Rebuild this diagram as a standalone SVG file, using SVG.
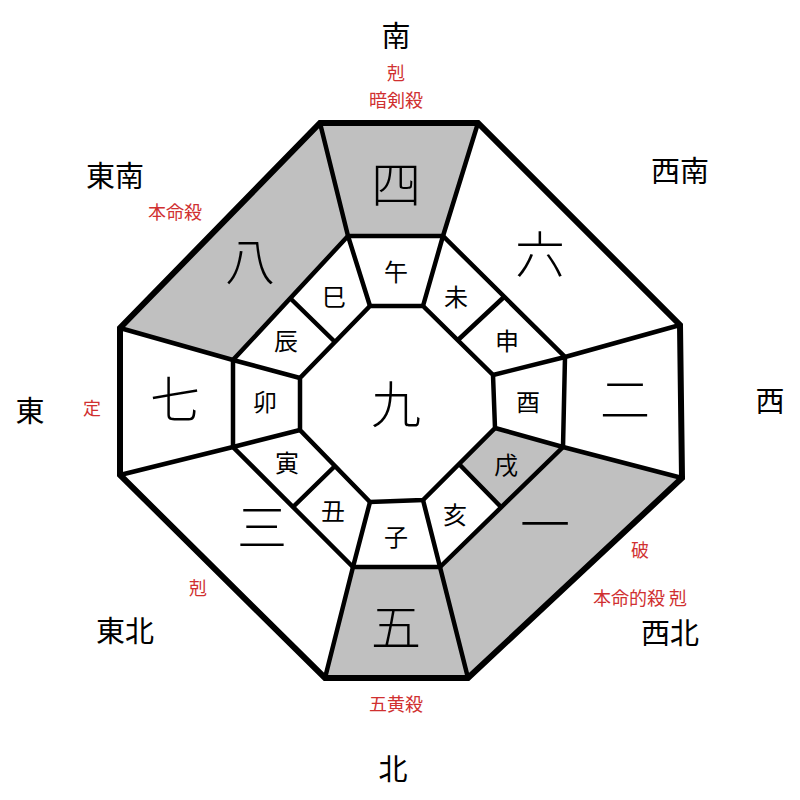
<svg xmlns="http://www.w3.org/2000/svg" width="800" height="800" viewBox="0 0 800 800">
<style>
.g{fill:#c0c0c0}
.w{fill:#fff}
.ln{stroke:#000;stroke-width:4.5;fill:none;stroke-linejoin:miter}
.o{stroke:#000;stroke-width:6;fill:none}
.t{font-family:"Noto Sans CJK JP","Noto Sans CJK SC",sans-serif;text-anchor:middle;fill:#000}
.big{font-size:50px;font-weight:300}
.br{font-size:24px}
.dir{font-size:29px}
.r{font-family:"Noto Sans CJK JP",sans-serif;text-anchor:middle;fill:#d03030;font-size:18px}
</style>
<rect width="800" height="800" fill="#fff"/>
<g id="fills">
<polygon class="g" points="320,123 478,123 443,236 348,236"/>
<polygon class="g" points="120,328 320,123 348,236 233,360"/>
<polygon class="g" points="682,478 468,678 440,567 563,447"/>
<polygon class="g" points="325,678 468,678 440,567 353,567"/>
<polygon class="g" points="563,447 495,428 459,464 501,507"/>
</g>
<g id="connectors">
<polygon class="o" points="320,123 478,123 680,325 682,478 468,678 325,678 120,475 120,328"/>
<polygon class="ln" points="348,236 443,236 565,357 563,447 440,567 353,567 233,447 233,360"/>
<polygon class="ln" points="370,306 423,306 493,375 495,428 423,500 370,502 300,430 300,378"/>
<path class="ln" d="M320,123 L348,236 L370,306 M478,123 L443,236 L423,306 M680,325 L565,357 L493,375 M682,478 L563,447 L495,428 M468,678 L440,567 L423,500 M325,678 L353,567 L370,502 M120,475 L233,447 L300,430 M120,328 L233,360 L300,378 M290,298 L335,342 M504,297 L458,340 M501,507 L459,464 M293,507 L335,466"/>
</g>
<g id="numbers">
<text class="t big" x="396" y="203">四</text>
<text class="t big" x="540" y="273">六</text>
<text class="t big" x="625" y="418">二</text>
<text class="t big" x="545" y="543">一</text>
<text class="t big" x="396" y="646">五</text>
<text class="t big" x="262" y="546">三</text>
<text class="t big" x="175" y="418">七</text>
<text class="t big" x="250" y="280">八</text>
<text class="t big" x="396" y="423">九</text>
</g>
<g id="branches">
<text class="t br" x="396" y="281">午</text>
<text class="t br" x="456" y="306">未</text>
<text class="t br" x="507" y="350">申</text>
<text class="t br" x="528" y="411">酉</text>
<text class="t br" x="506" y="474">戌</text>
<text class="t br" x="455" y="524">亥</text>
<text class="t br" x="396" y="546">子</text>
<text class="t br" x="333" y="520">丑</text>
<text class="t br" x="287" y="472">寅</text>
<text class="t br" x="265" y="411">卯</text>
<text class="t br" x="286" y="350">辰</text>
<text class="t br" x="334" y="306">巳</text>
</g>
<g id="labels">
<text class="t dir" x="396" y="47">南</text>
<text class="t dir" x="115" y="187">東南</text>
<text class="t dir" x="680" y="182">西南</text>
<text class="t dir" x="30" y="422">東</text>
<text class="t dir" x="770" y="412">西</text>
<text class="t dir" x="125" y="642">東北</text>
<text class="t dir" x="670" y="644">西北</text>
<text class="t dir" x="393" y="780">北</text>
<text class="r" x="396" y="80">剋</text>
<text class="r" x="396" y="107">暗剣殺</text>
<text class="r" x="175" y="219">本命殺</text>
<text class="r" x="92" y="415">定</text>
<text class="r" x="640" y="557">破</text>
<text class="r" x="640" y="605">本命的殺 剋</text>
<text class="r" x="198" y="595">剋</text>
<text class="r" x="396" y="711">五黄殺</text>
</g>
</svg>
